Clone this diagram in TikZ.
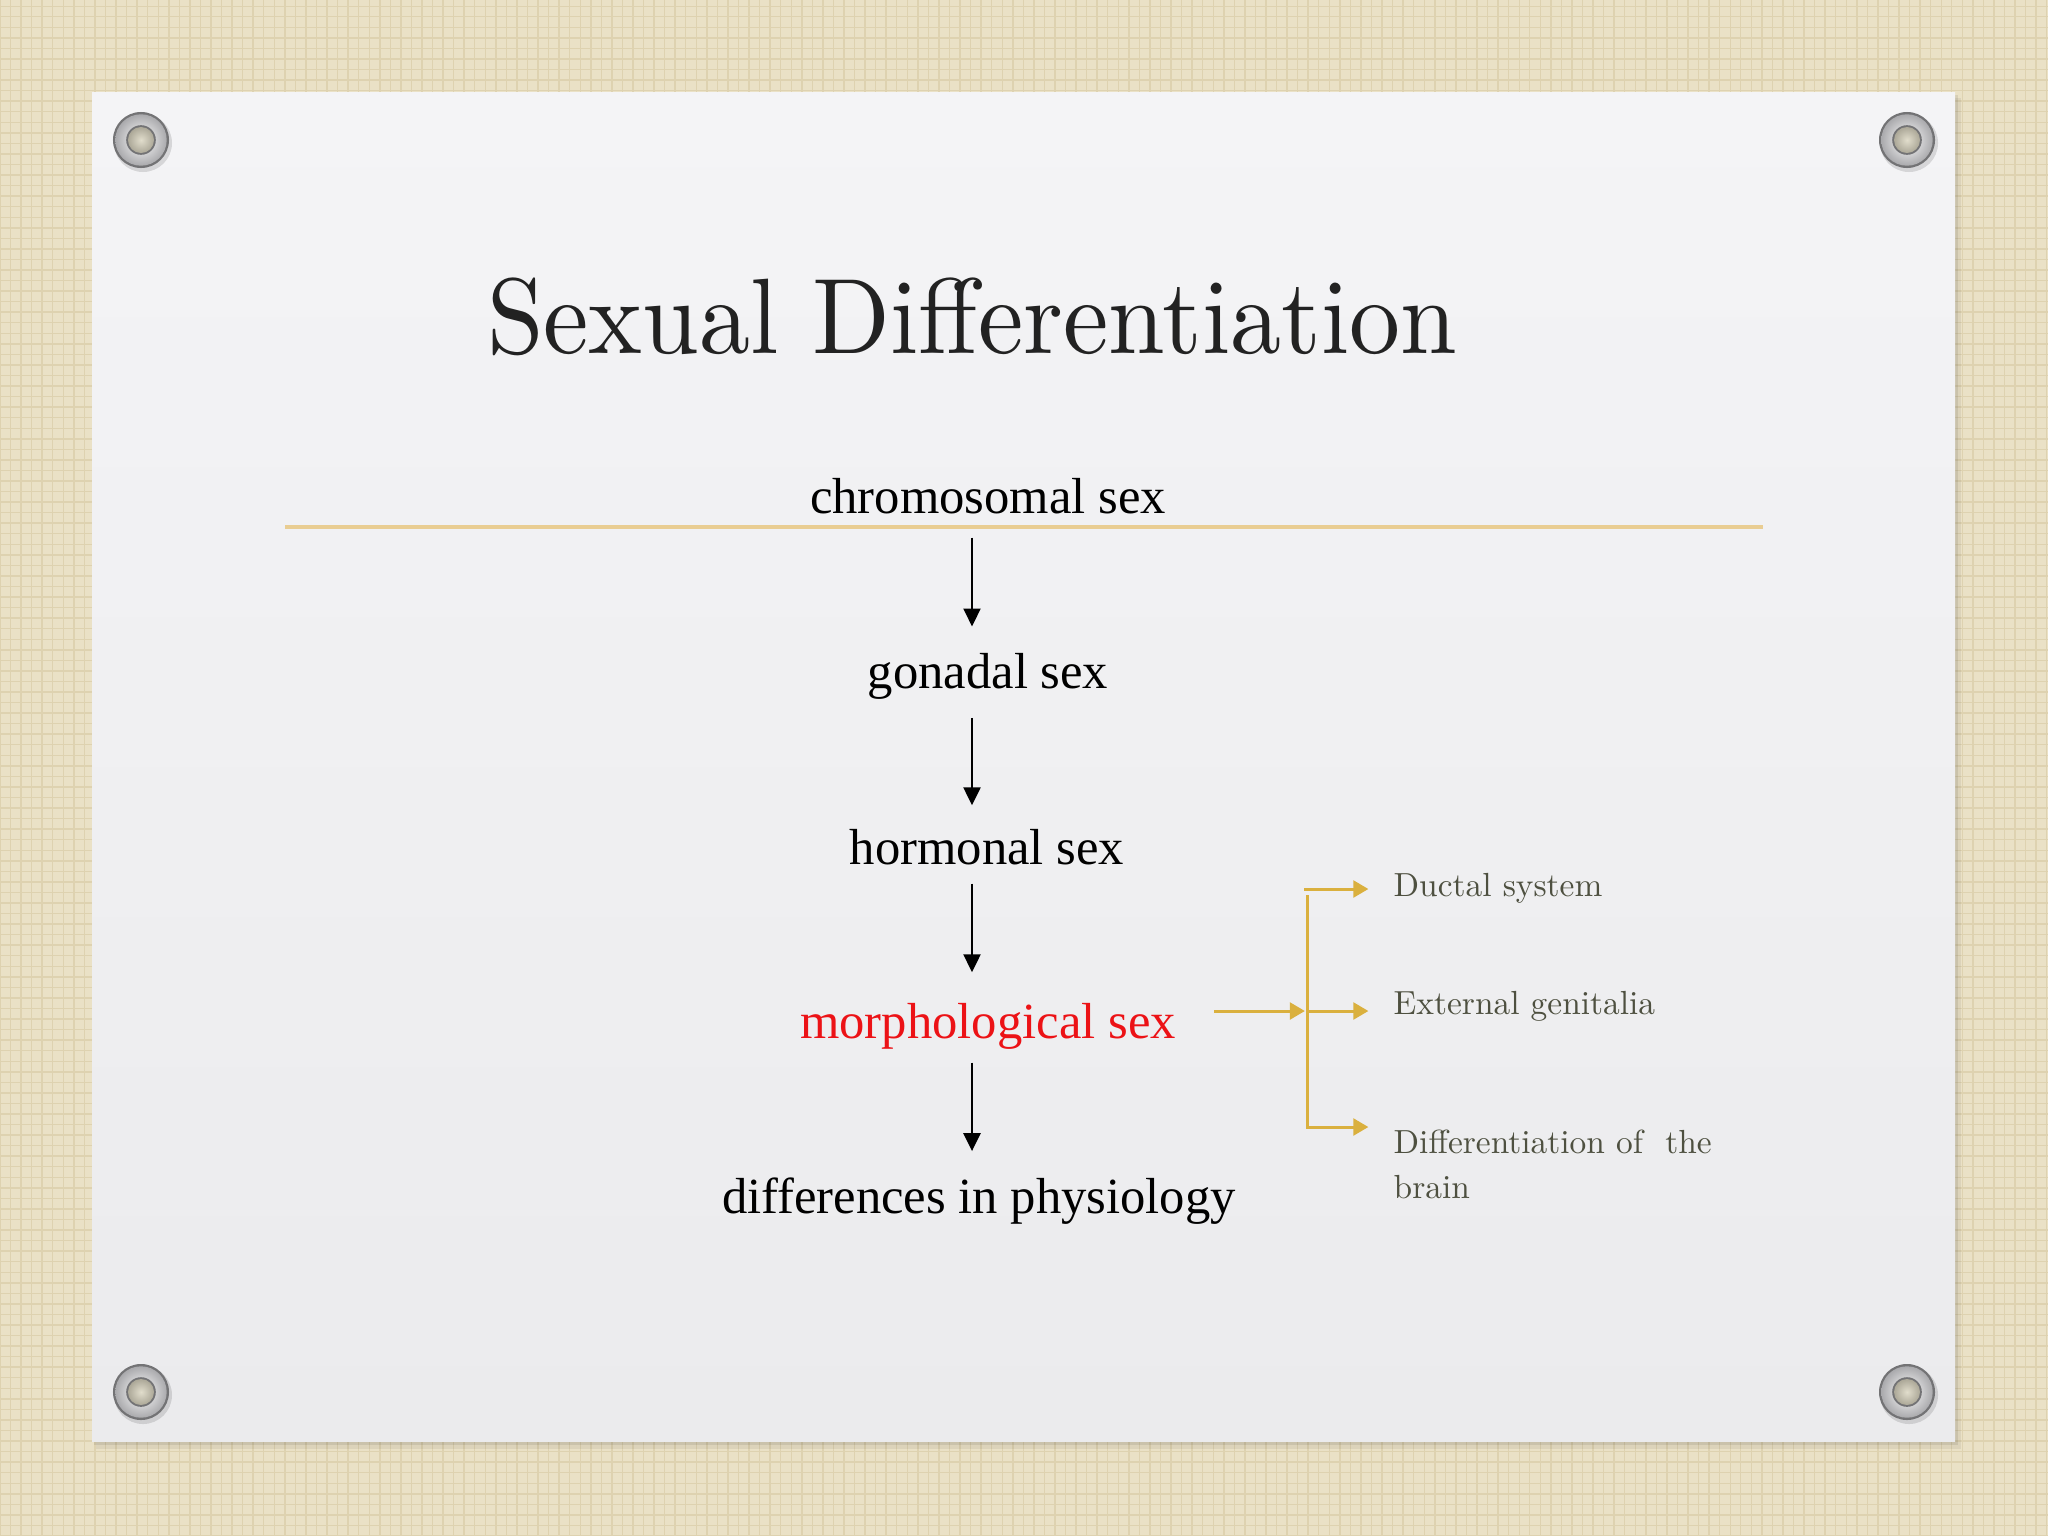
\documentclass[tikz,border=0pt]{standalone}
\usepackage{fontspec}
\newfontfamily\tnr{Liberation Serif}
\newfontfamily\lmten{lmroman10-regular.otf}
\usetikzlibrary{arrows.meta,patterns}
\definecolor{bgbeige}{RGB}{234,225,198}
\definecolor{bgdark}{RGB}{222,210,176}
\definecolor{slidetop}{RGB}{244,244,246}
\definecolor{slidebot}{RGB}{235,235,237}
\definecolor{goldc}{RGB}{218,176,62}
\definecolor{goldline}{RGB}{233,205,146}
\definecolor{morphred}{RGB}{236,18,22}
\definecolor{sidegray}{RGB}{78,80,64}
\definecolor{titlec}{RGB}{34,34,34}
\definecolor{ringedge}{RGB}{115,115,117}
\definecolor{ringmid}{RGB}{170,170,173}
\definecolor{holelight}{RGB}{225,221,204}
\definecolor{holedark}{RGB}{172,168,152}
\tikzset{
  grommet/.pic={
    \fill[black, opacity=0.12] (0.02cm,-0.03cm) circle (0.29cm);
    \fill[ringedge] (0,0) circle (0.28cm);
    \shade[inner color=white, outer color=ringmid] (0,0) circle (0.257cm);
    \fill[ringedge] (0,0) circle (0.148cm);
    \shade[inner color=holelight, outer color=holedark] (0,0) circle (0.13cm);
  }
}
\begin{document}
\begin{tikzpicture}[x=0.01cm,y=-0.01cm,
  mainlbl/.style={font=\tnr\fontsize{14.4pt}{17pt}\selectfont, inner sep=0pt,
                  text height=10pt, text depth=3pt, anchor=base},
  sidelbl/.style={font=\lmten\fontsize{9.5pt}{12pt}\selectfont, text=sidegray,
                  inner sep=0pt, anchor=base west},
  blackarr/.style={line width=0.75pt, draw=black, -{Triangle[width=4.8pt,length=5.1pt]}},
  goldarr/.style={line width=0.85pt, draw=goldc, -{Triangle[width=4.8pt,length=4.3pt]}},
]
\useasboundingbox (0,0) rectangle (2048,1536);
% background
\fill[bgbeige] (0,0) rectangle (2048,1536);
\fill[pattern=grid, pattern color=bgdark] (0,0) rectangle (2048,1536);
% slide shadow
\fill[black, opacity=0.06] (96,98) rectangle (1961,1449);
\fill[black, opacity=0.08] (94,95) rectangle (1958,1445);
% slide
\shade[top color=slidetop, bottom color=slidebot] (92,92) rectangle (1955,1441);
% grommets
\pic at (141,140) {grommet};
\pic at (1907,140) {grommet};
\pic at (141,1392) {grommet};
\pic at (1907,1392) {grommet};
% title
\node[font=\lmten\fontsize{30.5pt}{36pt}\selectfont, text=titlec, inner sep=0pt, anchor=base]
  (title) at (972,353) {\scalebox{0.95}[1]{Sexual Differentiation}};
% gold rule
\coordinate (hl) at (285,527);
\coordinate (hr) at (1763,527);
\draw[line width=1.1pt, goldline] (hl) -- (hr);
% main chain
\node[mainlbl] (chromo) at (988,513) {chromosomal sex};
\node[mainlbl] (gonadal) at (988,688) {gonadal sex};
\node[mainlbl] (hormonal) at (987,864) {hormonal sex};
\node[mainlbl, text=morphred] (morph) at (988,1038) {morphological sex};
\node[mainlbl] (diff) at (979,1213) {differences in physiology};
\coordinate (axis) at (972,0);
\draw[blackarr, shorten <=3.8pt, shorten >=7.3pt] (chromo.south -| axis) -- (gonadal.north -| axis);
\draw[blackarr, shorten <=5.3pt, shorten >=6.5pt] (gonadal.south -| axis) -- (hormonal.north -| axis);
\draw[blackarr, shorten <=2.4pt, shorten >=8.5pt] (hormonal.south -| axis) -- (morph.north -| axis);
\draw[blackarr, shorten <=3.8pt, shorten >=7.4pt] (morph.south -| axis) -- (diff.north -| axis);
% side labels
\node[sidelbl] (ductal) at (1393,896) {Ductal system};
\node[sidelbl] (extgen) at (1393,1014) {External genitalia};
\node[sidelbl] (brain1) at (1393,1153) {Differentiation of~~the};
\node[sidelbl] (brain2) at (1393,1198) {brain};
% gold connectors
\coordinate (bt) at (1304,889);
\coordinate (jt) at (1307,895);
\coordinate (jm) at (1307,1011);
\coordinate (jb) at (1307,1127);
\draw[goldarr, shorten >=7pt] (bt) -- (bt -| ductal.west);
\draw[goldarr, shorten >=7pt] (jt) -- (jb) -- (jb -| brain1.west);
\draw[goldarr, shorten <=10.8pt, shorten >=0.6pt] (morph.east |- jm) -- (jm);
\draw[goldarr, shorten >=7pt] (jm) -- (jm -| extgen.west);
\end{tikzpicture}
\end{document}
